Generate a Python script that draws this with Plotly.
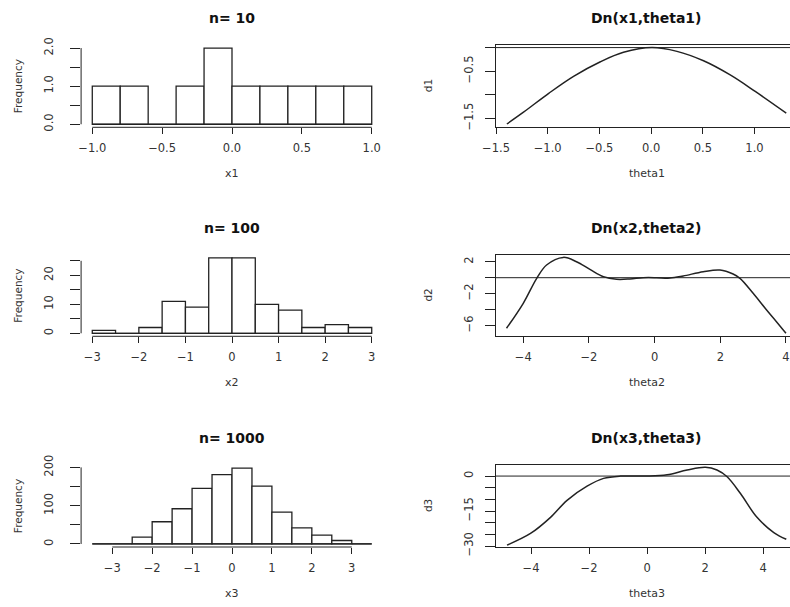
import plotly.graph_objects as go

# ---------------- data ----------------
# Histograms (bin edges and counts)
edges1 = [-1.0, -0.8, -0.6, -0.4, -0.2, 0.0, 0.2, 0.4, 0.6, 0.8, 1.0]
counts1 = [1, 1, 0, 1, 2, 1, 1, 1, 1, 1]

edges2 = [-3.0, -2.5, -2.0, -1.5, -1.0, -0.5, 0.0, 0.5, 1.0, 1.5, 2.0, 2.5, 3.0]
counts2 = [1, 0, 2, 11, 9, 26, 26, 10, 8, 2, 3, 2]

edges3 = [-3.5, -3.0, -2.5, -2.0, -1.5, -1.0, -0.5, 0.0, 0.5, 1.0, 1.5, 2.0, 2.5, 3.0, 3.5]
counts3 = [0, 0, 18, 58, 92, 145, 181, 198, 151, 83, 42, 23, 9, 0]

# Curves Dn(x, theta)
theta1 = [-1.395, -1.234, -0.99, -0.75, -0.49, -0.267, 0.008, 0.25, 0.507, 0.765, 1.007, 1.307]
d1 = [-1.62, -1.37, -0.97, -0.61, -0.30, -0.10, 0.0, -0.08, -0.28, -0.58, -0.93, -1.39]

theta2 = [-4.51, -4.0, -3.59, -3.29, -2.78, -2.38, -1.97, -1.56, -1.16, -0.75, -0.35, 0.06,
          0.47, 0.87, 1.48, 1.99, 2.39, 2.6, 3.0, 3.41, 3.71, 4.0]
d2 = [-6.33, -3.2, -0.08, 1.59, 2.54, 2.0, 1.04, 0.13, -0.2, -0.16, 0.0, 0.0,
      -0.05, 0.21, 0.75, 0.96, 0.46, -0.08, -1.95, -4.04, -5.5, -6.95]

theta3 = [-4.83, -4.02, -3.33, -2.76, -2.07, -1.5, -0.92, 0.0, 0.69, 1.38, 2.01, 2.41, 2.76,
          3.22, 3.79, 4.37, 4.8]
d3 = [-29.6, -24.6, -17.7, -10.4, -4.35, -1.0, 0.0, 0.0, 0.57, 2.6, 3.77, 2.6, -0.3,
      -7.5, -17.7, -24.2, -27.1]

# Tick values / labels
M = "\u2212"
hx1 = [-1.0, -0.5, 0.0, 0.5, 1.0]
hx1_t = [M + "1.0", M + "0.5", "0.0", "0.5", "1.0"]
hy1 = [0.0, 0.5, 1.0, 1.5, 2.0]
hy1_t = ["0.0", "", "1.0", "", "2.0"]

hx2 = [-3, -2, -1, 0, 1, 2, 3]
hx2_t = [M + "3", M + "2", M + "1", "0", "1", "2", "3"]
hy2 = [0, 5, 10, 15, 20, 25]
hy2_t = ["0", "", "10", "", "20", ""]

hx3 = [-3, -2, -1, 0, 1, 2, 3]
hx3_t = [M + "3", M + "2", M + "1", "0", "1", "2", "3"]
hy3 = [0, 50, 100, 150, 200]
hy3_t = ["0", "", "100", "", "200"]

cx1 = [-1.5, -1.0, -0.5, 0.0, 0.5, 1.0]
cx1_t = [M + "1.5", M + "1.0", M + "0.5", "0.0", "0.5", "1.0"]
cy1 = [0.0, -0.5, -1.0, -1.5]
cy1_t = ["", M + "0.5", "", M + "1.5"]

cx2 = [-4, -2, 0, 2, 4]
cx2_t = [M + "4", M + "2", "0", "2", "4"]
cy2 = [2, 0, -2, -4, -6]
cy2_t = ["2", "", M + "2", "", M + "6"]

cx3 = [-4, -2, 0, 2, 4]
cx3_t = [M + "4", M + "2", "0", "2", "4"]
cy3 = [0, -5, -10, -15, -20, -25, -30]
cy3_t = ["0", "", "", M + "15", "", "", M + "30"]

titles = ["n= 10", "Dn(x1,theta1)", "n= 100", "Dn(x2,theta2)", "n= 1000", "Dn(x3,theta3)"]
xlabels = ["x1", "theta1", "x2", "theta2", "x3", "theta3"]
ylabels = ["Frequency", "d1", "Frequency", "d2", "Frequency", "d3"]

# ---------------- layout geometry ----------------
W, H = 790, 607
FONT = "DejaVu Sans"
INK = "#222222"

def py(p):
    return 1 - p / H

def pxx(p):
    return p / W

rows = [(45.0, 127.3), (254.9, 336.3), (465.1, 547.0)]
cols = [(81.1, 382.9), (496.0, 790.0)]

xranges = [[-1.08, 1.08], [-1.5, 1.3433], [-3.24, 3.24], [-4.83, 4.1226], [-3.78, 3.78], [-5.21, 4.928]]
yranges = [[-0.08, 2.08], [-1.69, 0.055], [-1.04, 27.04], [-7.33, 2.85], [-7.92, 205.92], [-30.4, 4.7]]
xticks = [(hx1, hx1_t), (cx1, cx1_t), (hx2, hx2_t), (cx2, cx2_t), (hx3, hx3_t), (cx3, cx3_t)]
yticks = [(hy1, hy1_t), (cy1, cy1_t), (hy2, hy2_t), (cy2, cy2_t), (hy3, hy3_t), (cy3, cy3_t)]

fig = go.Figure()
hists = [(edges1, counts1), (edges2, counts2), (edges3, counts3)]
curves = [(theta1, d1), (theta2, d2), (theta3, d3)]

layout = dict(
    template="none",
    width=W, height=H, margin=dict(l=0, r=0, t=0, b=0, pad=0, autoexpand=False),
    paper_bgcolor="white", plot_bgcolor="white", showlegend=False,
    font=dict(family=FONT, color=INK, size=11),
)
shapes = []
annotations = []

for i in range(6):
    r, c = divmod(i, 2)
    n = i + 1
    xa = "x" if n == 1 else f"x{n}"
    ya = "y" if n == 1 else f"y{n}"
    xkey = "xaxis" if n == 1 else f"xaxis{n}"
    ykey = "yaxis" if n == 1 else f"yaxis{n}"
    top, bot = rows[r]
    left, right = cols[c]
    is_hist = (c == 0)

    layout[xkey] = dict(
        domain=[pxx(left), pxx(right)], range=xranges[i], anchor=ya,
        tickmode="array", tickvals=xticks[i][0], ticktext=xticks[i][1],
        ticks="outside", ticklen=6, tickwidth=1, tickcolor=INK,
        showgrid=False, zeroline=False, ticklabelstandoff=4, automargin=False,
        tickfont=dict(size=11.5, color="#333333"),
        showline=not is_hist, mirror=(not is_hist), linecolor=INK, linewidth=1,
        fixedrange=True,
    )
    layout[ykey] = dict(
        domain=[py(bot), py(top)], range=yranges[i], anchor=xa,
        tickmode="array", tickvals=yticks[i][0], ticktext=yticks[i][1],
        ticks="outside", ticklen=10, tickwidth=1, tickcolor=INK, tickangle=-90,
        showgrid=False, zeroline=False, ticklabelstandoff=(13 if is_hist else 7),
        automargin=False,
        tickfont=dict(size=11.5, color="#333333"),
        showline=not is_hist, linecolor=INK, linewidth=1,
        fixedrange=True,
    )

    if is_hist:
        edges, counts = hists[r]
        centers = [(edges[k] + edges[k + 1]) / 2 for k in range(len(counts))]
        widths = [edges[k + 1] - edges[k] for k in range(len(counts))]
        fig.add_trace(go.Bar(
            x=centers, y=counts, width=widths, xaxis=xa, yaxis=ya,
            marker=dict(color="white", line=dict(color=INK, width=1.3)),
        ))
        # baseline of the histogram (zero-height bins are drawn as flat lines)
        fig.add_trace(go.Scatter(
            x=[edges[0], edges[-1]], y=[0, 0], xaxis=xa, yaxis=ya, mode="lines",
            line=dict(color=INK, width=1.2), hoverinfo="skip",
        ))
        # R-style axis lines spanning first to last tick
        shapes.append(dict(type="line", xref=xa, yref=f"{ya} domain",
                           x0=xticks[i][0][0], x1=xticks[i][0][-1], y0=0, y1=0,
                           line=dict(color=INK, width=1)))
        shapes.append(dict(type="line", xref=f"{xa} domain", yref=ya,
                           x0=0, x1=0, y0=yticks[i][0][0], y1=yticks[i][0][-1],
                           line=dict(color=INK, width=1)))
    else:
        th, dv = curves[r]
        fig.add_trace(go.Scatter(
            x=th, y=dv, xaxis=xa, yaxis=ya, mode="lines",
            line=dict(color=INK, width=1.5, shape="spline", smoothing=1.0),
        ))
        shapes.append(dict(type="line", xref=f"{xa} domain", yref=ya,
                           x0=0, x1=1, y0=0, y1=0, line=dict(color=INK, width=1)))

    # titles and axis labels
    cx = (left + (right if is_hist else left + 301.8)) / 2
    annotations.append(dict(text=f"<b>{titles[i]}</b>", xref="paper", yref="paper",
                            x=pxx(cx), y=py(top - 27), showarrow=False,
                            xanchor="center", yanchor="middle",
                            font=dict(size=14, color="#111111", family=FONT)))
    annotations.append(dict(text=xlabels[i], xref="paper", yref="paper",
                            x=pxx(cx), y=py(bot + 46), showarrow=False,
                            xanchor="center", yanchor="middle",
                            font=dict(size=11, color="#333333", family=FONT)))
    annotations.append(dict(text=ylabels[i], xref="paper", yref="paper",
                            x=pxx(left - 63 if is_hist else left - 68), y=py((top + bot) / 2),
                            showarrow=False, textangle=-90,
                            xanchor="center", yanchor="middle",
                            font=dict(size=10.5, color="#333333", family=FONT)))

layout["shapes"] = shapes
layout["annotations"] = annotations
fig.update_layout(**layout)
fig.update_layout(bargap=0)
fig.write_html(
    "out.html",
    config={"displayModeBar": False, "staticPlot": True},
    post_script="document.body.style.margin='0';document.body.style.overflow='hidden';",
)
